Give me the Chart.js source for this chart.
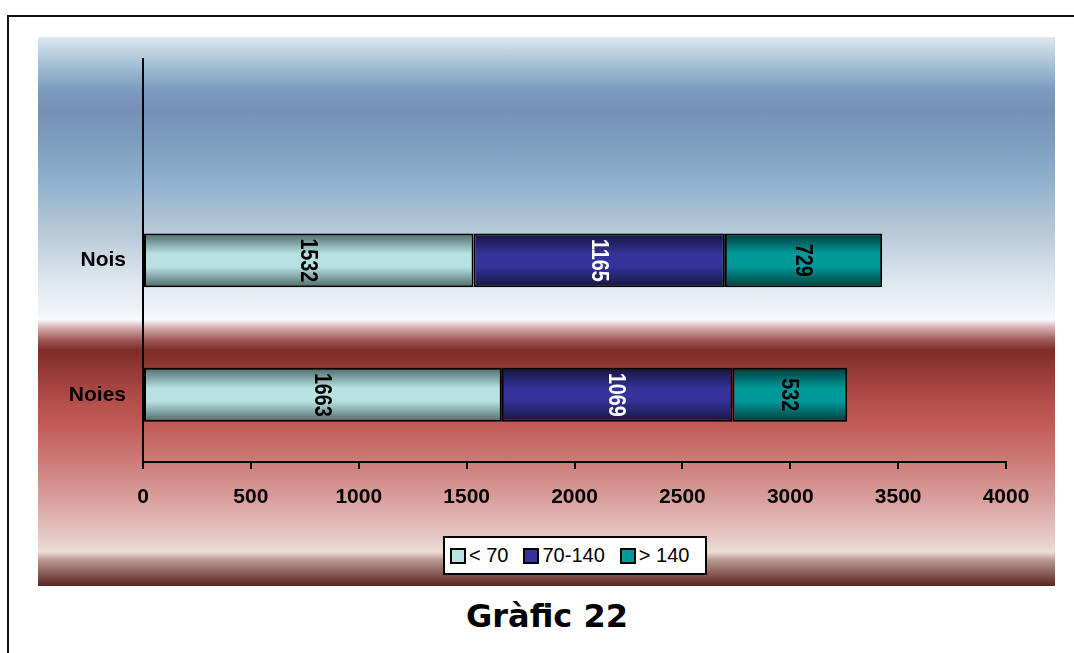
<!DOCTYPE html>
<html>
<head>
<meta charset="utf-8">
<script src="https://cdn.jsdelivr.net/npm/chart.js@4/dist/chart.umd.min.js"></script>
<style>
  html, body { margin: 0; background: #fff; width: 1074px; height: 653px; overflow: hidden; }
  body { position: relative; }
  #frame { position: absolute; left: 7px; top: 15px; width: 1065px; height: 636px; border-top: 2px solid #111; border-left: 2px solid #111; }
  #plot {
    position: absolute; left: 38px; top: 37px; width: 1017px; height: 549px;
    background: linear-gradient(to bottom,
      #dde8f1 0%, #a8c2d8 4.7%, #7b9bbf 9.7%, #7890b8 13.3%, #7c9cbe 18.8%,
      #8fb0cc 26%, #b5c8d8 35.2%, #dde6ee 44.3%, #eef2f6 49.2%, #f8fafc 51.5%,
      #d8b4b4 52.8%, #a05a58 55.2%, #7f2c28 57%, #b24e4a 66.1%, #c05854 69.8%,
      #cc7a76 77%, #d9a09c 84.3%, #e7ccc8 91.6%, #eeddd8 93.8%, #b89890 95.3%,
      #8a5e58 97.6%, #5a2420 100%);
  }
  #legend {
    position: absolute; left: 443px; top: 536px; height: 35px; padding: 0 16px 0 5px;
    background: #fff; border: 2px solid #000; display: flex; align-items: center;
    font: 20px "Liberation Sans", Arial, sans-serif; color: #000;
  }
  #legend span.item { display: flex; align-items: center; margin-right: 15px; }
  #legend span.item:last-child { margin-right: 0; }
  #legend span.sw { width: 12px; height: 12px; border: 2px solid #000; margin-right: 3px; box-sizing: content-box; }
  #title {
    position: absolute; left: 0; width: 1074px; padding-left: 20px; box-sizing: border-box;
    top: 597px; text-align: center;
    font: bold 32px "DejaVu Sans", Verdana, sans-serif; color: #000;
  }
</style>
</head>
<body>
<div id="frame"></div>
<div id="plot"><canvas id="myChart" width="1017" height="549"></canvas></div>
<div id="legend"></div>
<div id="title">Gràfic 22</div>
<script>
const categories = ["Nois", "Noies"];
const seriesNames = ["< 70", "70-140", "> 140"];
const under70 = [1532, 1663];
const between70and140 = [1165, 1069];
const over140 = [729, 532];
const xTicks = [0, 500, 1000, 1500, 2000, 2500, 3000, 3500, 4000];

// edge colour, middle colour, label colour
const seriesLooks = [
  ["#4d6a6a", "#b8e2e2", "#000"],
  ["#15153e", "#333399", "#fff"],
  ["#003c3c", "#009999", "#000"],
];

// Excel left an empty slot above the two bars
const labels = [""].concat(categories);
const pad = (arr) => [null].concat(arr);

const barFill = (edge, mid) => (context) => {
  const chart = context.chart;
  const yScale = chart.scales.y;
  if (!chart.chartArea || !yScale) return mid;
  const band = Math.abs(yScale.getPixelForValue(1) - yScale.getPixelForValue(0));
  const c = yScale.getPixelForValue(context.dataIndex);
  const half = band * 0.4 / 2;
  const g = chart.ctx.createLinearGradient(0, c - half, 0, c + half);
  g.addColorStop(0, edge);
  g.addColorStop(0.38, mid);
  g.addColorStop(0.62, mid);
  g.addColorStop(1, edge);
  return g;
};

const seriesData = [under70, between70and140, over140];
const datasets = seriesData.map((values, i) => ({
  label: seriesNames[i],
  data: pad(values),
  backgroundColor: barFill(seriesLooks[i][0], seriesLooks[i][1]),
  borderColor: "#000",
  borderWidth: 2,
  borderSkipped: false,
  categoryPercentage: 0.4,
  barPercentage: 1,
}));

// legend as html
const legendEl = document.getElementById("legend");
seriesNames.forEach((name, i) => {
  const item = document.createElement("span");
  item.className = "item";
  const sw = document.createElement("span");
  sw.className = "sw";
  sw.style.background = seriesLooks[i][1];
  item.appendChild(sw);
  item.appendChild(document.createTextNode(name));
  legendEl.appendChild(item);
});

//writes the values turned on their side in the middle of each piece
const valueLabels = {
  id: "valueLabels",
  afterDatasetsDraw(chart) {
    const ctx = chart.ctx;
    chart.data.datasets.forEach((ds, i) => {
      const meta = chart.getDatasetMeta(i);
      meta.data.forEach((bar, j) => {
        const v = ds.data[j];
        if (v == null) return;
        const x = (bar.x + bar.base) / 2;
        ctx.save();
        ctx.translate(x, bar.y);
        ctx.rotate(Math.PI / 2);
        ctx.scale(0.82, 1);
        ctx.font = "bold 24px 'Liberation Sans', Arial, sans-serif";
        ctx.fillStyle = seriesLooks[i][2];
        ctx.textAlign = "center";
        ctx.textBaseline = "middle";
        ctx.fillText(String(v), 0, 1);
        ctx.restore();
      });
    });
  },
};

const myChart = new Chart(document.getElementById("myChart"), {
  type: "bar",
  data: { labels: labels, datasets: datasets },
  options: {
    indexAxis: "y",
    responsive: false,
    animation: false,
    layout: { padding: { top: 14, right: 49, left: 0, bottom: 0 } },
    plugins: { legend: { display: false }, tooltip: { enabled: false } },
    scales: {
      x: {
        stacked: true,
        min: 0,
        max: 4000,
        afterBuildTicks: (scale) => {
          scale.ticks = xTicks.map((v) => ({ value: v }));
        },
        afterFit: (scale) => { scale.height = 124; },
        grid: { drawOnChartArea: false, drawTicks: true, tickLength: 7, color: "#000", lineWidth: 2 },
        border: { color: "#000", width: 2 },
        ticks: {
          color: "#000",
          padding: 16,
          callback: (v) => String(v),
          font: { family: "'Liberation Sans', Arial, sans-serif", size: 21, weight: "bold" },
        },
      },
      y: {
        stacked: true,
        afterFit: (scale) => { scale.width = 105; },
        grid: { display: false },
        border: { color: "#000", width: 2 },
        ticks: {
          color: "#000",
          padding: 9,
          font: { family: "'Liberation Sans', Arial, sans-serif", size: 21, weight: "bold" },
        },
      },
    },
  },
  plugins: [valueLabels],
});
</script>
</body>
</html>
